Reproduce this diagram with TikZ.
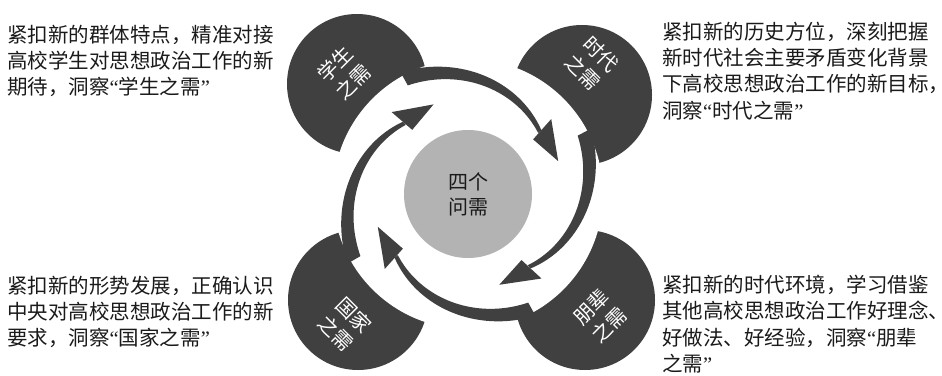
\documentclass[tikz,border=0pt]{standalone}
\usepackage{fontspec}
\setmainfont{Noto Sans CJK SC}
\newfontfamily\quotefont{Liberation Serif}
\newcommand\myquote[1]{{\quotefont “}#1{\quotefont ”}}
\definecolor{darkc}{HTML}{404040}
\definecolor{corec}{HTML}{B3B3B3}
\definecolor{textc}{HTML}{1A1A1A}
\begin{document}
\begin{tikzpicture}[x=1pt,y=1pt,
  needcircle/.style={circle,fill=darkc,minimum size=140pt,inner sep=0pt},
  needlabel/.style={text=white,font=\fontsize{20}{26}\selectfont,align=center,inner sep=0pt},
  corecircle/.style={circle,fill=corec,minimum size=128pt,inner sep=0pt,text=textc,
    font=\fontsize{20}{25}\selectfont,align=center},
  desc/.style={font=\fontsize{20.5}{26.2}\selectfont,align=left,inner sep=0pt,anchor=north west,text=textc},
  arrowfill/.style={fill=darkc}]
\useasboundingbox (0,0) rectangle (942,375);
\coordinate (C) at (468,181);
% four need circles
\node[needcircle] (xs) at (357,291) {};
\node[needcircle] (sd) at (582,280) {};
\node[needcircle] (gj) at (358,75) {};
\node[needcircle] (pb) at (585,75) {};
% white disc cutting them
\fill[white] (C) circle (135);
% spiral arrows
\begin{scope}[shift={(C)}]
\foreach \a in {111,20,-69,202}{
  \fill[arrowfill] plot[domain=-8:70,samples=40] ({\a-\x}:{135-0.54*\x})
    -- plot[domain=70:-8,samples=40] ({\a-\x}:{121-0.40*\x}) -- cycle;
  \fill[arrowfill] ({\a-69}:112) -- ({\a-91}:96) -- ({\a-71}:85) -- cycle;
}
\end{scope}
% centre
\node[corecircle] (core) at (C) {四个\\问需};
% labels in circles
\node[needlabel,rotate=45] (xsl) at (344,302) {学生\\之需};
\node[needlabel,rotate=-45] (sdl) at (592,312) {时代\\之需};
\node[needlabel,rotate=-45] (gjl) at (345,51) {国家\\之需};
\node[needlabel,rotate=45] (pbl) at (600,59) {朋辈\\之需};
% descriptions
\node[desc] (t1) at (7,350) {紧扣新的群体特点，精准对接\\高校学生对思想政治工作的新\\期待，洞察\myquote{学生之需}};
\node[desc] (t2) at (662,353) {紧扣新的历史方位，深刻把握\\新时代社会主要矛盾变化背景\\下高校思想政治工作的新目标，\\洞察\myquote{时代之需}};
\node[desc] (t3) at (7,99) {紧扣新的形势发展，正确认识\\中央对高校思想政治工作的新\\要求，洞察\myquote{国家之需}};
\node[desc] (t4) at (662,100) {紧扣新的时代环境，学习借鉴\\其他高校思想政治工作好理念、\\好做法、好经验，洞察\myquote{朋辈\\之需}};
\end{tikzpicture}
\end{document}
